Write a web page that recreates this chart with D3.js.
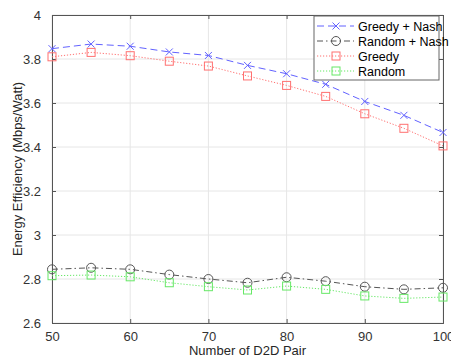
<!DOCTYPE html>
<html lang="en">
<head>
<meta charset="UTF-8">
<title>Energy Efficiency</title>
<script src="https://cdn.jsdelivr.net/npm/d3@7"></script>
<style>
  body { margin: 0; background: #fff; }
  text { font-family: "Liberation Sans", Arial, sans-serif; }
</style>
</head>
<body>
<svg width="451" height="358" id="mainsvg"></svg>
<script>
  const pairs = [50, 55, 60, 65, 70, 75, 80, 85, 90, 95, 100]
  const greedyNash = [3.847, 3.868, 3.858, 3.832, 3.816, 3.771, 3.733, 3.685, 3.607, 3.544, 3.466]
  const randomNash = [2.844, 2.851, 2.844, 2.820, 2.800, 2.783, 2.808, 2.790, 2.765, 2.753, 2.760]
  const greedy = [3.810, 3.830, 3.815, 3.790, 3.768, 3.723, 3.680, 3.630, 3.551, 3.485, 3.405]
  const random = [2.815, 2.818, 2.810, 2.783, 2.765, 2.750, 2.768, 2.753, 2.723, 2.712, 2.718]
  const xTicks = [50, 60, 70, 80, 90, 100]
  const yTicks = [2.6, 2.8, 3, 3.2, 3.4, 3.6, 3.8, 4]

  const series = [
    { name: 'Greedy + Nash', values: greedyNash, color: '#6262ff', dash: '7,4', marker: 'x' },
    { name: 'Random + Nash', values: randomNash, color: '#555', dash: '6,3,1.5,3', marker: 'o' },
    { name: 'Greedy', values: greedy, color: '#ff7070', dash: '1.2,1.8', marker: 's' },
    { name: 'Random', values: random, color: '#66e866', dash: '1.2,1.8', marker: 's' }
  ]

  const svg = d3.select('#mainsvg')
  const pLeft = 52, pRight = 443, pTop = 15, pBottom = 323

  const x = d3.scaleLinear().domain([50, 100]).range([pLeft, pRight])
  const y = d3.scaleLinear().domain([2.6, 4]).range([pBottom, pTop])

  // grid
  const grid = svg.append('g')
  grid.selectAll('.gx').data(xTicks).enter().append('line')
    .attr('x1', d => x(d)).attr('x2', d => x(d)).attr('y1', pTop).attr('y2', pBottom)
    .attr('stroke', '#e6e6e6').attr('stroke-width', 1)
  grid.selectAll('.gy').data(yTicks).enter().append('line')
    .attr('y1', d => y(d)).attr('y2', d => y(d)).attr('x1', pLeft).attr('x2', pRight)
    .attr('stroke', '#e6e6e6').attr('stroke-width', 1)

  // axes (box with ticks on all four sides)
  const axisColor = '#555'
  const xAxis = svg.append('g').attr('transform', `translate(0,${pBottom})`)
    .call(d3.axisBottom(x).tickValues(xTicks).tickSize(-4).tickPadding(9).tickFormat(d3.format('d')))
  const yAxis = svg.append('g').attr('transform', `translate(${pLeft},0)`)
    .call(d3.axisLeft(y).tickValues(yTicks).tickSize(-4).tickPadding(11).tickFormat(d => d))
  const xTop = svg.append('g').attr('transform', `translate(0,${pTop})`)
    .call(d3.axisTop(x).tickValues(xTicks).tickSize(-4).tickFormat(''))
  const yRight = svg.append('g').attr('transform', `translate(${pRight},0)`)
    .call(d3.axisRight(y).tickValues(yTicks).tickSize(-4).tickFormat(''))
  ;[xAxis, yAxis, xTop, yRight].forEach(a => {
    a.selectAll('path, line').attr('stroke', axisColor)
    a.selectAll('text').attr('fill', '#333').attr('font-size', 13)
      .attr('font-family', '"Liberation Sans", Arial, sans-serif')
  })

  // lines and markers
  const line = d3.line().x((d, i) => x(pairs[i])).y(d => y(d))
  series.forEach(s => {
    svg.append('path').datum(s.values)
      .attr('d', line).attr('fill', 'none')
      .attr('stroke', s.color).attr('stroke-width', 1)
      .attr('stroke-dasharray', s.dash)
    const g = svg.append('g')
    s.values.forEach((v, i) => drawMarker(g, s, x(pairs[i]), y(v)))
  })

  function drawMarker(g, s, cx, cy) {
    if (s.marker === 'x') {
      g.append('path').attr('d', `M${cx - 3.5},${cy - 3.5}L${cx + 3.5},${cy + 3.5}M${cx - 3.5},${cy + 3.5}L${cx + 3.5},${cy - 3.5}`)
        .attr('stroke', s.color).attr('stroke-width', 1)
    } else if (s.marker === 'o') {
      g.append('circle').attr('cx', cx).attr('cy', cy).attr('r', 4.5)
        .attr('fill', 'none').attr('stroke', s.color).attr('stroke-width', 1)
    } else {
      g.append('rect').attr('x', cx - 4).attr('y', cy - 4).attr('width', 8).attr('height', 8)
        .attr('fill', 'none').attr('stroke', s.color).attr('stroke-width', 1)
    }
  }

  // labels
  svg.append('text').text('Number of D2D Pair')
    .attr('x', (pLeft + pRight) / 2).attr('y', 355).attr('text-anchor', 'middle')
    .attr('font-size', 13).attr('fill', '#262626')
  svg.append('text').text('Energy Efficiency (Mbps/Watt)')
    .attr('transform', `translate(22,${(pTop + pBottom) / 2}) rotate(-90)`)
    .attr('text-anchor', 'middle').attr('font-size', 13).attr('fill', '#262626')

  // legend
  const lg = svg.append('g').attr('transform', 'translate(314,16)')
  lg.append('rect').attr('width', 125).attr('height', 64)
    .attr('fill', '#fff').attr('stroke', '#666').attr('stroke-width', 1)
  series.forEach((s, i) => {
    const ly = 10 + i * 15
    lg.append('line').attr('x1', 3).attr('x2', 40).attr('y1', ly).attr('y2', ly)
      .attr('stroke', s.color).attr('stroke-width', 1).attr('stroke-dasharray', s.dash)
    drawMarker(lg, s, 22, ly)
    lg.append('text').text(s.name).attr('x', 44).attr('y', ly + 4.5)
      .attr('font-size', 12.5).attr('fill', '#000')
  })
</script>
</body>
</html>
